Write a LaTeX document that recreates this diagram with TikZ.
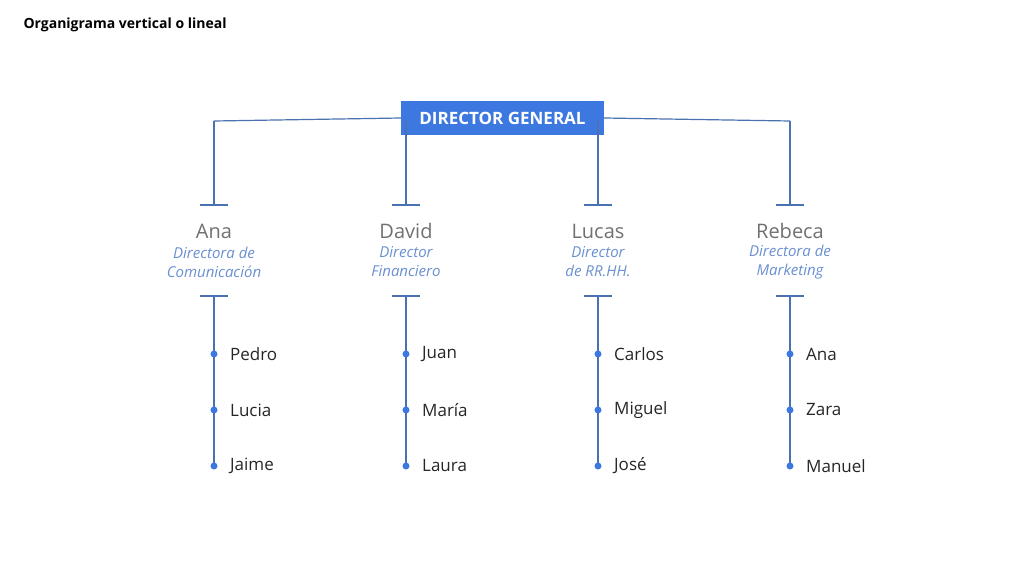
\documentclass[tikz,border=0pt]{standalone}
\usepackage{fontspec}
\setmainfont{Open Sans}
\usetikzlibrary{positioning}
\definecolor{linkblue}{HTML}{4A72B0}
\definecolor{boxblue}{HTML}{3C78E0}
\definecolor{roleblue}{HTML}{6A8FD0}
\definecolor{namegray}{HTML}{707070}

\begin{document}
\begin{tikzpicture}[
        x=1pt, y=-1pt,
        link/.style={
            draw=linkblue,
            line width=1.2pt,
        },
        chief/.style={
            fill=boxblue,
            text=white,
            font=\fontsize{17}{20}\selectfont\bfseries,
            minimum width=203pt,
            minimum height=34pt,
            inner sep=0pt,
        },
        head/.style={
            text=namegray,
            font=\fontsize{20}{22}\selectfont,
            inner sep=0pt,
        },
        role/.style={
            text=roleblue,
            font=\fontsize{15}{19}\selectfont\itshape,
            align=center,
            inner sep=0pt,
        },
        member/.style={
            text=black!85,
            font=\fontsize{17}{20}\selectfont,
            anchor=west,
            inner sep=0pt,
        },
        dot/.style={
            fill=boxblue,
            circle,
            minimum size=7pt,
            inner sep=0pt,
        },
    ]
    \useasboundingbox (0,0) rectangle (1024,575);

    \node[anchor=west, font=\fontsize{14}{16}\selectfont\bfseries] (title) at (20,25) {Organigrama vertical o lineal};

    \node[chief] (dg) at (502.5,118) {DIRECTOR GENERAL};

    % top branches
    \foreach \i/\x in {1/214, 2/406, 3/598, 4/790} {
        \coordinate (t\i) at (\x,121);
        \coordinate (e\i) at (\x,205);
        \coordinate (s\i) at (\x,296);
        \coordinate (z\i) at (\x,466);
        \draw[link] (t\i) -- (e\i);
        \draw[link] ([xshift=-14pt]e\i) -- ([xshift=14pt]e\i);
        \draw[link] ([xshift=-14pt]s\i) -- ([xshift=14pt]s\i);
        \draw[link] (s\i) -- (z\i);
    }
    \draw[link] (t1) -- (dg.west);
    \draw[link] (dg.east) -- (t4);

    \node[head] (h1) at (214,231) {Ana};
    \node[head] (h2) at (406,231) {David};
    \node[head] (h3) at (598,231) {Lucas};
    \node[head] (h4) at (790,231) {Rebeca};

    \node[role] (r1) at (214,262) {Directora de\\Comunicación};
    \node[role] (r2) at (406,262) {Director\\Financiero};
    \node[role] (r3) at (598,262) {Director\\de RR.HH.};
    \node[role] (r4) at (790,262) {Directora de\\Marketing};

    % team members
    \foreach \i/\x/\a/\b/\c in {1/214/Pedro/Lucia/Jaime, 2/406/Juan/María/Laura,
                                3/598/Carlos/Miguel/José, 4/790/Ana/Zara/Manuel} {
        \node[dot] (d\i a) at (\x,354) {};
        \node[dot] (d\i b) at (\x,410) {};
        \node[dot] (d\i c) at (\x,466) {};
        \node[member] (m\i a) at (\x+16,354) {\a};
        \node[member] (m\i b) at (\x+16,410) {\b};
        \node[member] (m\i c) at (\x+16,466) {\c};
    }
\end{tikzpicture}
\end{document}
